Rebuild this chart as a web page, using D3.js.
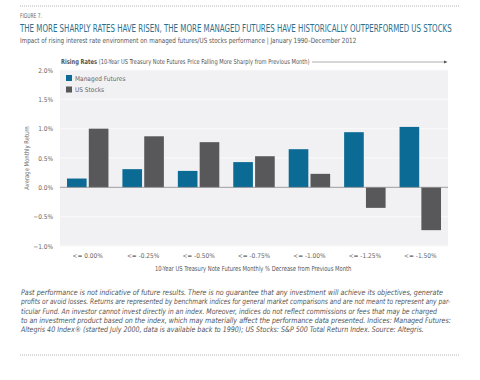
<!DOCTYPE html>
<html><head><meta charset="utf-8">
<script src="https://cdn.jsdelivr.net/npm/d3@7"></script>
<style>
body{margin:0;background:#fff;}
svg{display:block;}
text{font-family:"DejaVu Sans Condensed","Liberation Sans Narrow","Roboto",sans-serif;}
</style></head><body>
<svg id="c" width="480" height="380"></svg>
<script>
const categories = ["<= 0.00%","<= -0.25%","<= -0.50%","<= -0.75%","<= -1.00%","<= -1.25%","<= -1.50%"];
const seriesNames = ["Managed Futures","US Stocks"];
const managedFutures = [0.15,0.31,0.28,0.43,0.65,0.94,1.03];
const usStocks = [1.00,0.87,0.77,0.53,0.23,-0.35,-0.73];
const yTicks = [-1.0,-0.5,0.0,0.5,1.0,1.5,2.0];
const footLines = [
 "Past performance is not indicative of future results. There is no guarantee that any investment will achieve its objectives, generate",
 "profits or avoid losses. Returns are represented by benchmark indices for general market comparisons and are not meant to represent any par-",
 "ticular Fund. An investor cannot invest directly in an index. Moreover, indices do not reflect commissions or fees that may be charged",
 "to an investment product based on the index, which may materially affect the performance data presented. Indices: Managed Futures:",
 "Altegris 40 Index\u00AE (started July 2000, data is available back to 1990); US Stocks: S&P 500 Total Return Index. Source: Altegris."
];
const colors = ["#0b6b94","#58585b"];

const svg = d3.select("#c");
const L=60,R=448,T=70,B=246;
const x = d3.scaleBand().domain(categories).range([L,R]).paddingInner(0).paddingOuter(0);
const y = d3.scaleLinear().domain([-1,2]).range([B,T]);

// place text at (px,py) and squeeze horizontally to width w
function fitX(sel, px, py, w){
  sel.attr("x",0).attr("y",0);
  const cw = sel.node().getComputedTextLength();
  const k = Math.min(1.05, w/cw);
  sel.attr("transform",`translate(${px},${py}) scale(${k.toFixed(4)},1)`);
  return sel;
}

// dotted lines
[6,355].forEach(yy=>svg.append("line").attr("x1",20).attr("x2",460).attr("y1",yy).attr("y2",yy)
  .attr("stroke","#888").attr("stroke-width",0.8).attr("stroke-dasharray","0.8,1.2"));

fitX(svg.append("text").attr("font-size",6.5).attr("fill","#666").text("FIGURE 7."),20,18,22);
fitX(svg.append("text").attr("font-size",10.5).attr("fill","#2d6f8c")
  .text("THE MORE SHARPLY RATES HAVE RISEN, THE MORE MANAGED FUTURES HAVE HISTORICALLY OUTPERFORMED US STOCKS"),20,32,432);
fitX(svg.append("text").attr("font-size",7.2).attr("fill","#555")
  .text("Impact of rising interest rate environment on managed futures/US stocks performance | January 1990\u2013December 2012"),20,43,336);

// rising rates header
const rr = svg.append("text").attr("font-size",6.8).attr("fill","#555");
rr.append("tspan").attr("font-weight","bold").text("Rising Rates ");
rr.append("tspan").text("(10-Year US Treasury Note Futures Price Falling More Sharply from Previous Month)");
fitX(rr,61,64,249);
svg.append("line").attr("x1",312).attr("x2",444).attr("y1",62).attr("y2",62).attr("stroke","#999").attr("stroke-width",0.8);
svg.append("path").attr("d","M444,60.5 L447.5,62 L444,63.5Z").attr("fill","#555");

// plot bg
svg.append("rect").attr("x",L).attr("y",T).attr("width",R-L).attr("height",B-T).attr("fill","#f1f1f3");
// grid
svg.append("g").selectAll("line").data(yTicks.filter(d=>d!==0)).join("line")
  .attr("x1",L).attr("x2",R).attr("y1",d=>y(d)).attr("y2",d=>y(d)).attr("stroke","#fafafb").attr("stroke-width",1);

// y axis
const ya = svg.append("g").attr("transform",`translate(${L},0)`)
  .call(d3.axisLeft(y).tickValues(yTicks).tickSize(0).tickPadding(7).tickFormat(d=>d3.format(".1f")(d)+"%"));
ya.select(".domain").remove();
ya.selectAll("text").attr("font-size",6.5).attr("fill","#666").style("font-family",'"DejaVu Sans Condensed",sans-serif');

svg.append("text").attr("transform",`translate(29,158) rotate(-90) scale(0.9,1)`).attr("text-anchor","middle")
  .attr("font-size",6.5).attr("fill","#666").text("Average Monthly Return");

// bars
const xs = d3.scaleBand().domain(seriesNames).range([0,x.bandwidth()]).paddingInner(0.1).paddingOuter(0.32);
const data = categories.map((c,i)=>({c,vals:[managedFutures[i],usStocks[i]]}));
const g = svg.append("g");
data.forEach(d=>{
  d.vals.forEach((v,j)=>{
    g.append("rect").attr("x",x(d.c)+xs(seriesNames[j])).attr("width",xs.bandwidth())
      .attr("y",y(Math.max(0,v))).attr("height",Math.abs(y(v)-y(0))).attr("fill",colors[j]);
  });
});
// zero line
svg.append("line").attr("x1",L).attr("x2",R).attr("y1",y(0)).attr("y2",y(0)).attr("stroke","#8a8a8c").attr("stroke-width",0.8);

// x axis
const xa = svg.append("g").attr("transform",`translate(0,${B})`)
  .call(d3.axisBottom(x).tickSize(0).tickPadding(7));
xa.select(".domain").remove();
xa.selectAll("text").attr("font-size",6.5).attr("fill","#666").style("font-family",'"DejaVu Sans Condensed",sans-serif');

fitX(svg.append("text").attr("font-size",7).attr("fill","#555")
  .text("10-Year US Treasury Note Futures Monthly % Decrease from Previous Month"),155,271,197);

// legend
seriesNames.forEach((n,i)=>{
  const ly = 75+i*11.5;
  svg.append("rect").attr("x",66).attr("y",ly).attr("width",6).attr("height",6).attr("fill",colors[i]);
  svg.append("text").attr("x",75).attr("y",ly+5.5).attr("font-size",6.5).attr("fill","#666").text(n);
});

// footnote
const footW = [422,430,416,430,403];
footLines.forEach((t,i)=>{
  fitX(svg.append("text").attr("font-size",7.6).attr("font-style","italic").attr("fill","#555").text(t),21,295+i*9.3,footW[i]);
});
</script></body></html>
